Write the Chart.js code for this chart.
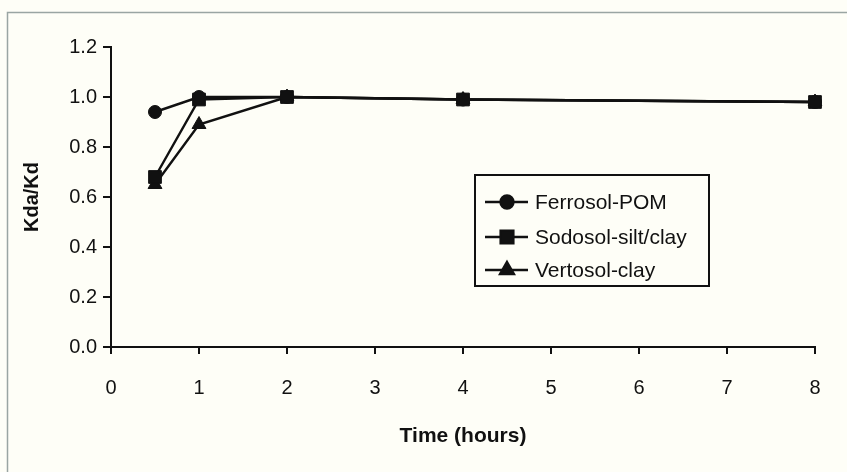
<!DOCTYPE html>
<html>
<head>
<meta charset="utf-8">
<script src="https://cdn.jsdelivr.net/npm/chart.js@4/dist/chart.umd.min.js"></script>
<style>
  html, body { margin: 0; padding: 0; background: #fefef7; }
  #wrap { width: 847px; height: 472px; position: relative; }
</style>
</head>
<body>
<div id="wrap"><canvas id="c" width="847" height="472"></canvas></div>
<script>
const times = [0.5, 1, 2, 4, 8];
const seriesNames = ["Ferrosol-POM", "Sodosol-silt/clay", "Vertosol-clay"];
const ferrosol = [0.94, 1.00, 1.00, 0.99, 0.98];
const sodosol = [0.68, 0.99, 1.00, 0.99, 0.98];
const vertosol = [0.65, 0.89, 1.00, 0.99, 0.98];
const xTitle = "Time (hours)";
const yTitle = "Kda/Kd";

const FONT = "'Liberation Sans', Arial, sans-serif";

function pts(vals) { return times.map((t, i) => ({ x: t, y: vals[i] })); }

const styles = [
  { pointStyle: 'circle', pointRadius: 6.5 },
  { pointStyle: 'rect', pointRadius: 9 },
  { pointStyle: 'triangle', pointRadius: 8 }
];
const allVals = [ferrosol, sodosol, vertosol];

const datasets = allVals.map((v, i) => ({
  label: seriesNames[i],
  data: pts(v),
  borderColor: '#111',
  backgroundColor: '#111',
  borderWidth: 2.4,
  pointStyle: styles[i].pointStyle,
  pointRadius: styles[i].pointRadius,
  pointBorderWidth: 1,
  pointBackgroundColor: '#111',
  pointBorderColor: '#111',
  tension: 0,
  clip: false
}));

const framePlugin = {
  id: 'frame',
  beforeDraw(chart) {
    const ctx = chart.ctx;
    ctx.save();
    ctx.fillStyle = '#fefef7';
    ctx.fillRect(0, 0, chart.width, chart.height);
    ctx.strokeStyle = '#9aa5a3';
    ctx.lineWidth = 1.5;
    ctx.beginPath();
    ctx.moveTo(7.5, 472);
    ctx.lineTo(7.5, 12.5);
    ctx.lineTo(847, 12.5);
    ctx.stroke();
    ctx.restore();
  }
};

const legendPlugin = {
  id: 'boxLegend',
  afterDraw(chart) {
    const ctx = chart.ctx;
    ctx.save();
    ctx.fillStyle = '#fefef7';
    ctx.fillRect(475, 175, 234, 111);
    ctx.strokeStyle = '#111';
    ctx.lineWidth = 2;
    ctx.strokeRect(475, 175, 234, 111);
    const rows = [202, 237, 270];
    chart.data.datasets.forEach((ds, i) => {
      const y = rows[i];
      ctx.strokeStyle = '#111';
      ctx.lineWidth = 2.4;
      ctx.beginPath();
      ctx.moveTo(485, y);
      ctx.lineTo(528, y);
      ctx.stroke();
      ctx.fillStyle = '#111';
      Chart.helpers.drawPoint(ctx, {
        pointStyle: ds.pointStyle,
        radius: ds.pointRadius,
        rotation: 0,
        borderWidth: 1
      }, 507, y);
      ctx.fillStyle = '#111';
      ctx.font = "21px " + FONT;
      ctx.textAlign = 'left';
      ctx.textBaseline = 'middle';
      ctx.fillText(ds.label, 535, y + 1);
    });
    ctx.restore();
  }
};

new Chart(document.getElementById('c'), {
  type: 'line',
  data: { datasets },
  options: {
    responsive: false,
    animation: false,
    devicePixelRatio: 1,
    layout: { padding: { top: 47, right: 32, bottom: 0, left: 0 } },
    plugins: { legend: { display: false }, tooltip: { enabled: false } },
    scales: {
      x: {
        type: 'linear',
        min: 0, max: 8,
        ticks: { stepSize: 1, color: '#111', padding: 22, font: { family: FONT, size: 20 } },
        grid: { drawOnChartArea: false, drawTicks: true, tickLength: 7, color: '#111', lineWidth: 2 },
        border: { display: true, color: '#111', width: 2 },
        title: { display: true, text: xTitle, color: '#111', padding: { bottom: 23, top: 0 },
          font: { family: FONT, size: 21, weight: 'bold' } },
        afterFit(scale) { scale.height = 125; }
      },
      y: {
        min: 0, max: 1.2,
        ticks: { stepSize: 0.2, color: '#111', padding: 6, font: { family: FONT, size: 20 },
          callback: v => Number(v).toFixed(1) },
        grid: { drawOnChartArea: false, drawTicks: true, tickLength: 8, color: '#111', lineWidth: 2 },
        border: { display: true, color: '#111', width: 2 },
        title: { display: true, text: yTitle, color: '#111', padding: { top: 20, bottom: 0 },
          font: { family: FONT, size: 20, weight: 'bold' } },
        afterFit(scale) { scale.width = 111; }
      }
    }
  },
  plugins: [framePlugin, legendPlugin]
});
</script>
</body>
</html>
